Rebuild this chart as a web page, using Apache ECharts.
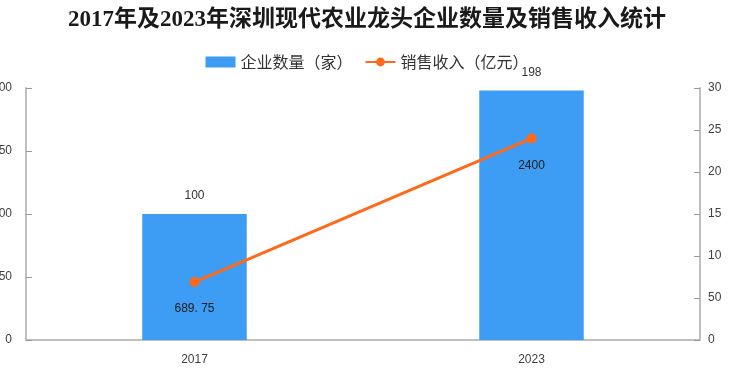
<!DOCTYPE html>
<html>
<head>
<meta charset="utf-8">
<script src="https://cdn.jsdelivr.net/npm/echarts@6/dist/echarts.min.js"></script>
<style>html,body{margin:0;padding:0;background:#fff}#c{width:734px;height:371px}</style>
</head>
<body>
<div id="c"></div>
<script>
const categories = ['2017', '2023'];
const enterpriseCount = [100, 198];
const salesRevenue = [689.75, 2400];
const leftTickLabels = ['0', '50', '100', '150', '200'];
const rightTickLabels = ['0', '50', '10', '15', '20', '25', '30'];

const chart = echarts.init(document.getElementById('c'));
const axisLineStyle = { color: '#bfbfbf', width: 2 };
chart.setOption({
  animation: false,
  backgroundColor: '#ffffff',
  title: {
    text: '2017年及2023年深圳现代农业龙头企业数量及销售收入统计',
    left: 'center', top: 4,
    textStyle: { fontFamily: '"Liberation Serif", "Noto Sans CJK SC"', fontWeight: 'bold', fontSize: 23, color: '#1a1a1a' }
  },
  legend: {
    top: 49, left: 'center', itemGap: 12, itemWidth: 30, itemHeight: 11,
    textStyle: { fontFamily: '"Noto Sans CJK SC"', fontSize: 16, color: '#333' },
    data: [
      { name: '企业数量（家）', icon: 'rect' },
      { name: '销售收入（亿元）' }
    ]
  },
  grid: { left: 26, right: 34, top: 88, bottom: 31, containLabel: false, outerBoundsMode: 'none' },
  xAxis: {
    type: 'category', data: categories,
    axisLine: { lineStyle: axisLineStyle },
    axisTick: { inside: true, length: 6, lineStyle: { color: '#999' } },
    axisLabel: { margin: 14, color: '#404040', fontSize: 12, fontFamily: 'Arial' }
  },
  yAxis: [
    {
      type: 'value', min: 0, max: 200, interval: 50,
      axisLine: { show: true, lineStyle: axisLineStyle },
      axisTick: { show: true, inside: true, length: 6, lineStyle: { color: '#999' } },
      splitLine: { show: false },
      axisLabel: { margin: 14, color: '#404040', fontSize: 12, fontFamily: 'Arial',
        formatter: (v) => leftTickLabels[Math.round(v / 50)] }
    },
    {
      type: 'value', min: 0, max: 3000, interval: 500, position: 'right',
      axisLine: { show: true, lineStyle: axisLineStyle },
      axisTick: { show: true, inside: true, length: 6, lineStyle: { color: '#999' } },
      splitLine: { show: false },
      axisLabel: { margin: 8, color: '#404040', fontSize: 12, fontFamily: 'Arial',
        formatter: (v) => rightTickLabels[Math.round(v / 500)] }
    }
  ],
  series: [
    {
      name: '企业数量（家）', type: 'bar', data: enterpriseCount, barWidth: '31%',
      itemStyle: { color: '#3d9cf3' },
      label: { show: true, position: 'top', distance: 12, color: '#333', fontSize: 12, fontFamily: 'Arial' }
    },
    {
      name: '销售收入（亿元）', type: 'line', yAxisIndex: 1, data: salesRevenue,
      symbol: 'circle', symbolSize: 10,
      lineStyle: { color: '#ff6a1a', width: 3 },
      itemStyle: { color: '#ff6a1a' },
      label: { show: true, position: 'bottom', distance: 16, color: '#1a1a1a', fontSize: 12, fontFamily: 'Arial',
        formatter: (p) => p.dataIndex === 0 ? '689. 75' : String(p.value) }
    }
  ]
});
</script>
</body>
</html>
